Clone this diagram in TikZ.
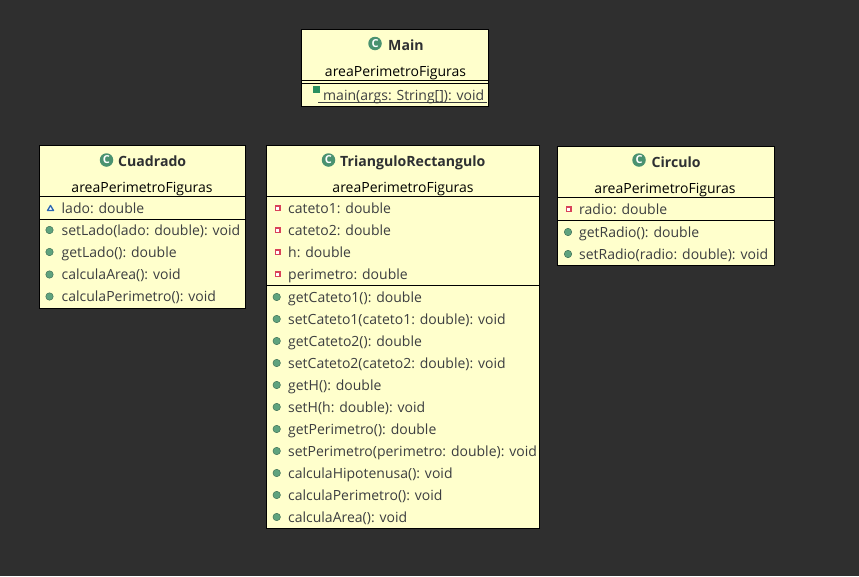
\documentclass[tikz,border=0pt]{standalone}
\usepackage{fontspec}
\setmainfont{Open Sans}
\definecolor{bgdark}{HTML}{2F2F2F}
\definecolor{boxfill}{HTML}{FFFFCC}
\definecolor{membertext}{HTML}{3C3E40}
\definecolor{titletext}{HTML}{2E3032}
\definecolor{icongreen}{HTML}{4A9270}
\definecolor{dotgreen}{HTML}{5FA37E}
\definecolor{privred}{HTML}{D9435A}
\definecolor{pkgblue}{HTML}{2C66B0}
\definecolor{staticgreen}{HTML}{2A9060}
\tikzset{
  x=1pt,y=-1pt,
  umlbox/.style={draw=black,fill=boxfill,line width=1pt},
  divider/.style={draw=black,line width=1pt},
  member/.style={anchor=base west,inner sep=0pt,text=membertext,font=\fontsize{14}{16}\selectfont},
  pkg/.style={anchor=base,inner sep=0pt,text=black,font=\fontsize{14}{16}\selectfont},
  titlelabel/.style={anchor=base west,inner sep=0pt,text=titletext,font=\fontsize{14.1}{16}\selectfont\bfseries},
  classicon/.style={circle,fill=icongreen,inner sep=0pt,minimum size=13.5pt,text=white,font=\fontsize{11}{11}\selectfont\bfseries},
  pubdot/.style={circle,fill=dotgreen,draw=icongreen!70!black,line width=.4pt,inner sep=0pt,minimum size=7.5pt},
  privsq/.style={rectangle,fill=white,draw=privred,line width=1.5pt,inner sep=0pt,minimum size=4.5pt},
  pkgtri/.style={draw=pkgblue,fill=white,line width=1.3pt,line join=round},
  statsq/.style={rectangle,fill=staticgreen,inner sep=0pt,minimum size=7pt},
}
\begin{document}
\begin{tikzpicture}
\useasboundingbox (0,0) rectangle (859,576);
\fill[bgdark] (0,0) rectangle (859,576);
% boxes
\draw[umlbox] (301.5,29.5) rectangle (488.5,106);
\draw[divider] (301.5,80.5)--(488.5,80.5) (301.5,83.5)--(488.5,83.5);
\draw[umlbox] (39.5,145.5) rectangle (245.5,308.5);
\draw[divider] (39.5,196.5)--(245.5,196.5) (39.5,219.5)--(245.5,219.5);
\draw[umlbox] (266.5,145.5) rectangle (539.5,528.5);
\draw[divider] (266.5,196.5)--(539.5,196.5) (266.5,285.5)--(539.5,285.5);
\draw[umlbox] (557.5,146.5) rectangle (774.5,265.5);
\draw[divider] (557.5,197.5)--(774.5,197.5) (557.5,220.5)--(774.5,220.5);
% Main
\node[classicon] (mi) at (375,43.5) {C};
\node[titlelabel] (mt) at (388,50) {Main};
\node[pkg] (mp) at (395.5,76) {areaPerimetroFiguras};
\node[statsq] (ms) at (316.5,89.5) {};
\node[member] (mm) at (323,100) {main(args: String[]): void};
\draw[membertext,line width=.8pt] (318,102.5)--(487,102.5);
% Cuadrado
\node[classicon] (ci) at (106.5,160) {C};
\node[titlelabel] (ct) at (118,166) {Cuadrado};
\node[pkg] (cp) at (142,192) {areaPerimetroFiguras};
\draw[pkgtri] (47.5,210.5)--(53.5,210.5)--(50.5,205.5)--cycle;
\foreach \y/\t [count=\i] in {230/{setLado(lado: double): void},252/{getLado(): double},274.5/{calculaArea(): void},296.5/{calculaPerimetro(): void}}{
  \node[pubdot] (cd\i) at (49.5,\y) {};
  \node[member] (cm\i) at (61.5,\y+5) {\t};
}
\node[member] (cf) at (61.5,213) {lado: double};
% TrianguloRectangulo
\node[classicon] (ti) at (328.5,160) {C};
\node[titlelabel] (tt) at (340,166) {TrianguloRectangulo};
\node[pkg] (tp) at (403,192) {areaPerimetroFiguras};
\foreach \y/\t [count=\i] in {208/{cateto1: double},230/{cateto2: double},252/{h: double},274/{perimetro: double}}{
  \node[privsq] (ts\i) at (277.5,\y) {};
  \node[member] (tf\i) at (288,\y+5) {\t};
}
\foreach \y/\t [count=\i] in {297/{getCateto1(): double},319/{setCateto1(cateto1: double): void},341/{getCateto2(): double},363/{setCateto2(cateto2: double): void},385/{getH(): double},407/{setH(h: double): void},429/{getPerimetro(): double},451/{setPerimetro(perimetro: double): void},473/{calculaHipotenusa(): void},495/{calculaPerimetro(): void},517/{calculaArea(): void}}{
  \node[pubdot] (td\i) at (276.7,\y) {};
  \node[member] (tm\i) at (288,\y+5) {\t};
}
% Circulo
\node[classicon] (ki) at (639,160) {C};
\node[titlelabel] (kt) at (651.5,167) {Circulo};
\node[pkg] (kp) at (665,193) {areaPerimetroFiguras};
\node[privsq] (ks) at (568.5,209) {};
\node[member] (kf) at (579,214) {radio: double};
\node[pubdot] (kd1) at (568,232) {};
\node[member] (km1) at (579,237) {getRadio(): double};
\node[pubdot] (kd2) at (568,254) {};
\node[member] (km2) at (579,259) {setRadio(radio: double): void};
\end{tikzpicture}
\end{document}
